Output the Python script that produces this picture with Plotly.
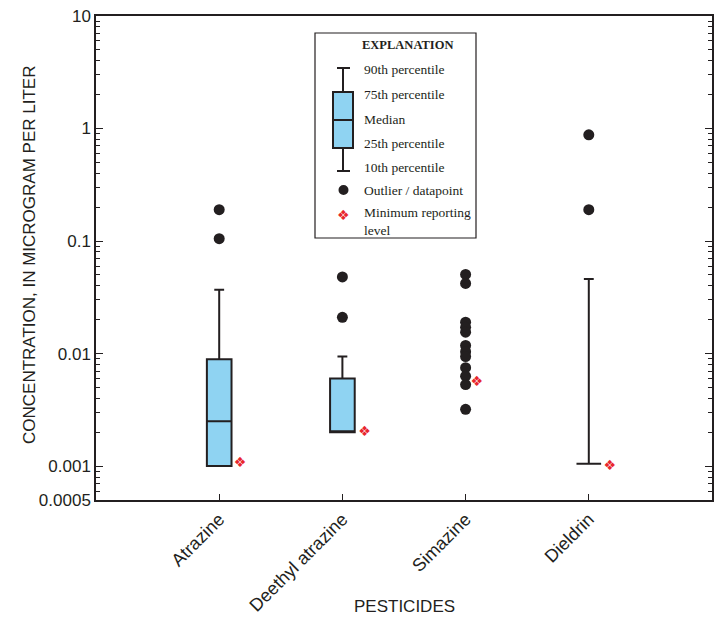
import plotly.graph_objects as go

# ---- data ----
pesticides = ["Atrazine", "Deethyl atrazine", "Simazine", "Dieldrin"]
box_names = ["Atrazine", "Deethyl atrazine", "Dieldrin"]
box_pos = [0, 1, 3]
p10 = [0.001, 0.002, 0.00105]
p25 = [0.001, 0.002, 0.00105]
p50 = [0.0025, 0.002, 0.00105]
p75 = [0.0089, 0.006, 0.00105]
p90 = [0.037, 0.0094, 0.046]

outlier_x = [0, 0, 1, 1, 3, 3]
outlier_y = [0.19, 0.105, 0.048, 0.021, 0.88, 0.19]

simazine_x = 2
simazine_y = [0.0505, 0.042, 0.019, 0.0171, 0.0155, 0.0118, 0.0104, 0.0094,
              0.0075, 0.0063, 0.0053, 0.0032]

mrl_x = [0.17, 1.18, 2.09, 3.17]
mrl_y = [0.00105, 0.002, 0.0055, 0.001]

ytick_vals = [10, 1, 0.1, 0.01, 0.001, 0.0005]
ytick_text = ["10", "1", "0.1", "0.01", "0.001", "0.0005"]

INK = "#231f20"
FILL = "#8fd3f2"
RED = "#e8262d"

fig = go.Figure()

fig.add_trace(go.Box(
    x=box_pos, q1=p25, median=p50, q3=p75, lowerfence=p10, upperfence=p90,
    width=0.2, whiskerwidth=0.4, fillcolor=FILL,
    line=dict(color=INK, width=2), boxpoints=False, showlegend=False,
    hoverinfo="skip"))

fig.add_trace(go.Scatter(
    x=outlier_x, y=outlier_y, mode="markers",
    marker=dict(color=INK, size=11), showlegend=False))

fig.add_trace(go.Scatter(
    x=[simazine_x] * len(simazine_y), y=simazine_y, mode="markers",
    marker=dict(color=INK, size=11), showlegend=False))

fig.add_trace(go.Scatter(
    x=mrl_x, y=mrl_y, mode="text", text=["❖"] * len(mrl_x),
    textfont=dict(color=RED, size=14, family="DejaVu Sans"),
    textposition="middle center", showlegend=False))

minor_vals = [m * 10 ** e for e in range(-4, 1) for m in range(2, 10)]
minor_vals = [v for v in minor_vals if 0.0005 < v < 10 and abs(v - 0.0005) > 1e-9]

# ---- layout geometry (pixels) ----
W, H = 718, 622
L, R, T, B = 96, 6, 16, 122
PW, PH = W - L - R, H - T - B


def px(x):
    return (x - L) / PW


def py(y):
    return (H - B - y) / PH


fig.update_layout(
    width=W, height=H,
    margin=dict(l=L, r=R, t=T, b=B, autoexpand=False),
    paper_bgcolor="white", plot_bgcolor="white",
    font=dict(family="Liberation Sans, Arial", color=INK, size=17),
    xaxis=dict(
        range=[-1, 4], tickmode="array", tickvals=[0, 1, 2, 3],
        ticktext=pesticides, tickangle=-45, ticks="inside", ticklen=6,
        tickcolor=INK, showline=True, linecolor=INK, linewidth=1.5,
        mirror=True, showgrid=False, zeroline=False, automargin=False,
        tickfont=dict(size=18)),
    yaxis=dict(
        type="log", range=[-3.30103, 1], tickmode="array",
        tickvals=ytick_vals, ticktext=ytick_text, ticks="inside",
        ticklen=7, tickcolor=INK, showline=True, linecolor=INK,
        linewidth=1.5, mirror="ticks", showgrid=False, zeroline=False,
        automargin=False, tickfont=dict(size=17),
        minor=dict(tickmode="array", tickvals=minor_vals, ticks="inside",
                   ticklen=4, tickcolor=INK, showgrid=False)),
)

# ---- explanation box ----
shapes = []
shapes.append(dict(type="rect", xref="paper", yref="paper",
                   x0=px(315), x1=px(476), y0=py(238), y1=py(33),
                   line=dict(color=INK, width=1.2), fillcolor="white"))
shapes.append(dict(type="line", xref="paper", yref="paper",
                   x0=px(343), x1=px(343), y0=py(68), y1=py(171),
                   line=dict(color=INK, width=2)))
for yy in (68, 171):
    shapes.append(dict(type="line", xref="paper", yref="paper",
                       x0=px(337), x1=px(350), y0=py(yy), y1=py(yy),
                       line=dict(color=INK, width=2)))
shapes.append(dict(type="rect", xref="paper", yref="paper",
                   x0=px(333), x1=px(353), y0=py(148), y1=py(92),
                   line=dict(color=INK, width=2), fillcolor=FILL))
shapes.append(dict(type="line", xref="paper", yref="paper",
                   x0=px(333), x1=px(353), y0=py(120), y1=py(120),
                   line=dict(color=INK, width=2)))
shapes.append(dict(type="circle", xref="paper", yref="paper",
                   x0=px(338.5), x1=px(348.5), y0=py(195), y1=py(185),
                   line=dict(color=INK, width=0), fillcolor=INK))
fig.update_layout(shapes=shapes)

serif_family = "Liberation Serif, Times New Roman"
serif = dict(family=serif_family, size=13.5, color=INK)
ann = [dict(text="<b>EXPLANATION</b>", x=px(407), y=py(45), xanchor="center",
            yanchor="middle", font=dict(family=serif_family, size=12.5, color=INK))]
labels = [("90th percentile", 70), ("75th percentile", 95), ("Median", 119),
          ("25th percentile", 143), ("10th percentile", 167),
          ("Outlier / datapoint", 190)]
for t, yy in labels:
    ann.append(dict(text=t, x=px(362), y=py(yy), xanchor="left",
                    yanchor="middle", font=serif))
ann.append(dict(text="Minimum reporting<br>level", x=px(362), y=py(221),
                xanchor="left", yanchor="middle", align="left",
                font=serif))
ann.append(dict(text="❖", x=px(343), y=py(215), xanchor="center",
                yanchor="middle",
                font=dict(family="DejaVu Sans", size=14, color=RED)))
# axis titles
ann.append(dict(text="CONCENTRATION, IN MICROGRAM PER LITER", x=px(30),
                y=py(255), xanchor="center", yanchor="middle", textangle=-90,
                font=dict(size=17, color=INK)))
ann.append(dict(text="PESTICIDES", x=px(404), y=py(606), xanchor="center",
                yanchor="middle", font=dict(size=17, color=INK)))
for a in ann:
    a.update(xref="paper", yref="paper", showarrow=False)
fig.update_layout(annotations=ann)

fig.write_html(
    "out.html",
    config={"displayModeBar": False},
    post_script="document.body.style.margin='0';document.body.style.overflow='hidden';",
)
